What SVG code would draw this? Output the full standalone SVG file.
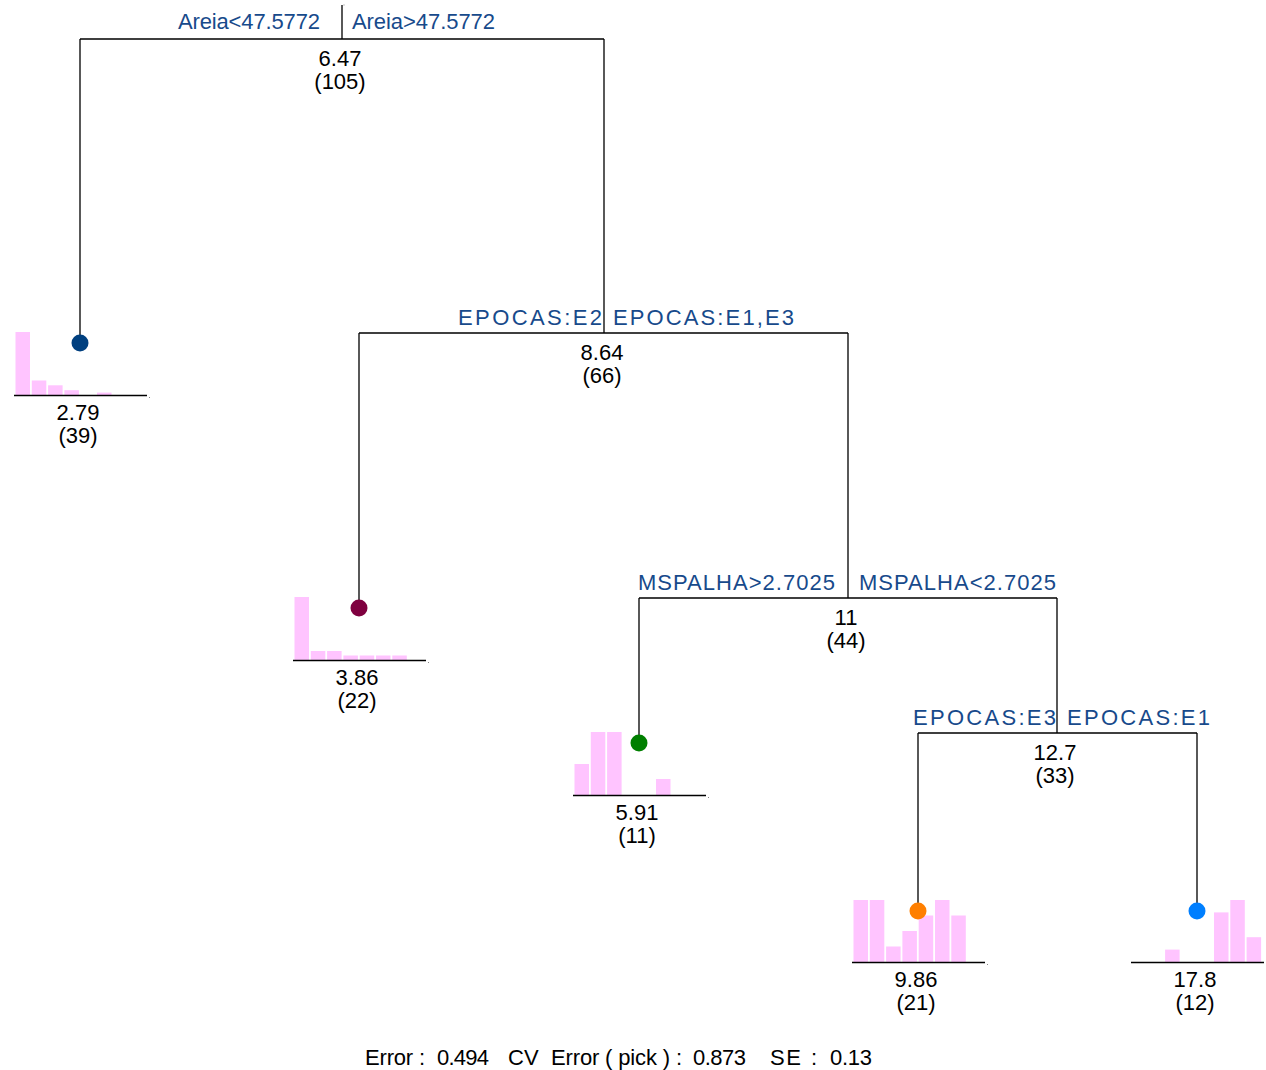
<svg xmlns="http://www.w3.org/2000/svg" width="1266" height="1070" viewBox="0 0 1266 1070">
<style>
text{font-family:"Liberation Sans",Arial,sans-serif;font-size:22px}
.lab{fill:#174a8b;}
.val{fill:#000;text-anchor:middle}
.ln{stroke:#000;stroke-width:1.3;fill:none}
.bar{fill:#ffc4ff}
.base{stroke:#000;stroke-width:1.5}
.spk{fill:#888}
</style>
<rect width="1266" height="1070" fill="#fff"/>
<g id="connectors">
<path class="ln" d="M342,5V39M80,39H604M80,39V343"/>
<path class="ln" d="M604,39V333M359,333H848M359,333V608"/>
<path class="ln" d="M848,333V598M639,598H1057M639,598V743"/>
<path class="ln" d="M1057,598V733M918,733H1197M918,733V911M1197,733V911"/>
<rect class="spk" x="343.5" y="4.5" width="1" height="1"/>
</g>
<g id="split1">
<text class="lab" x="178" y="29" textLength="142" lengthAdjust="spacing">Areia&lt;47.5772</text>
<text class="lab" x="352" y="29" textLength="143" lengthAdjust="spacing">Areia&gt;47.5772</text>
<text class="val" x="340" y="66">6.47</text>
<text class="val" x="340" y="89">(105)</text>
</g>
<g id="split2">
<text class="lab" x="458" y="325" textLength="144" lengthAdjust="spacing">EPOCAS:E2</text>
<text class="lab" x="613" y="325" textLength="181" lengthAdjust="spacing">EPOCAS:E1,E3</text>
<text class="val" x="602" y="360">8.64</text>
<text class="val" x="602" y="383">(66)</text>
</g>
<g id="split3">
<text class="lab" x="638" y="590" textLength="197" lengthAdjust="spacing">MSPALHA&gt;2.7025</text>
<text class="lab" x="859" y="590" textLength="197" lengthAdjust="spacing">MSPALHA&lt;2.7025</text>
<text class="val" x="846" y="625">11</text>
<text class="val" x="846" y="648">(44)</text>
</g>
<g id="split4">
<text class="lab" x="913" y="725" textLength="143" lengthAdjust="spacing">EPOCAS:E3</text>
<text class="lab" x="1067" y="725" textLength="143" lengthAdjust="spacing">EPOCAS:E1</text>
<text class="val" x="1055" y="760">12.7</text>
<text class="val" x="1055" y="783">(33)</text>
</g>
<g id="leaf1">
<rect class="bar" x="15.5" y="332" width="14.5" height="63"/>
<rect class="bar" x="31.8" y="380.5" width="14.5" height="14.5"/>
<rect class="bar" x="48.1" y="385.3" width="14.5" height="9.7"/>
<rect class="bar" x="64.4" y="390.2" width="14.5" height="4.8"/>
<rect class="bar" x="97" y="392.6" width="14.5" height="2.4"/>
<line class="base" x1="14" y1="395.5" x2="147" y2="395.5"/>
<rect class="spk" x="149" y="397" width="1" height="1"/>
<circle cx="80" cy="343" r="8.5" fill="#003f7f"/>
<text class="val" x="78" y="420">2.79</text>
<text class="val" x="78" y="443">(39)</text>
</g>
<g id="leaf2">
<rect class="bar" x="294.5" y="597" width="14.5" height="63"/>
<rect class="bar" x="310.8" y="651" width="14.5" height="9"/>
<rect class="bar" x="327.1" y="651" width="14.5" height="9"/>
<rect class="bar" x="343.4" y="655.5" width="14.5" height="4.5"/>
<rect class="bar" x="359.7" y="655.5" width="14.5" height="4.5"/>
<rect class="bar" x="376" y="655.5" width="14.5" height="4.5"/>
<rect class="bar" x="392.3" y="655.5" width="14.5" height="4.5"/>
<line class="base" x1="293" y1="660.5" x2="426" y2="660.5"/>
<rect class="spk" x="428" y="662" width="1" height="1"/>
<circle cx="359" cy="608" r="8.5" fill="#7f003f"/>
<text class="val" x="357" y="685">3.86</text>
<text class="val" x="357" y="708">(22)</text>
</g>
<g id="leaf3">
<rect class="bar" x="574.5" y="764" width="14.5" height="31"/>
<rect class="bar" x="590.8" y="732" width="14.5" height="63"/>
<rect class="bar" x="607.1" y="732" width="14.5" height="63"/>
<rect class="bar" x="656" y="779" width="14.5" height="16"/>
<line class="base" x1="573" y1="795.5" x2="706" y2="795.5"/>
<rect class="spk" x="708" y="797" width="1" height="1"/>
<circle cx="639" cy="743" r="8.5" fill="#007f00"/>
<text class="val" x="637" y="820">5.91</text>
<text class="val" x="637" y="843">(11)</text>
</g>
<g id="leaf4">
<rect class="bar" x="853.5" y="900" width="14.5" height="62"/>
<rect class="bar" x="869.8" y="900" width="14.5" height="62"/>
<rect class="bar" x="886.1" y="946.5" width="14.5" height="15.5"/>
<rect class="bar" x="902.4" y="931" width="14.5" height="31"/>
<rect class="bar" x="918.7" y="915.5" width="14.5" height="46.5"/>
<rect class="bar" x="935" y="900" width="14.5" height="62"/>
<rect class="bar" x="951.3" y="915.5" width="14.5" height="46.5"/>
<line class="base" x1="852" y1="962.5" x2="985" y2="962.5"/>
<rect class="spk" x="987" y="964" width="1" height="1"/>
<circle cx="918" cy="911" r="8.5" fill="#ff7f00"/>
<text class="val" x="916" y="987">9.86</text>
<text class="val" x="916" y="1010">(21)</text>
</g>
<g id="leaf5">
<rect class="bar" x="1165.1" y="949.6" width="14.5" height="12.4"/>
<rect class="bar" x="1214" y="912.4" width="14.5" height="49.6"/>
<rect class="bar" x="1230.3" y="900" width="14.5" height="62"/>
<rect class="bar" x="1246.6" y="937.2" width="14.5" height="24.8"/>
<line class="base" x1="1131" y1="962.5" x2="1264" y2="962.5"/>
<circle cx="1197" cy="911" r="8.5" fill="#007fff"/>
<text class="val" x="1195" y="987">17.8</text>
<text class="val" x="1195" y="1010">(12)</text>
</g>
<g id="summary">
<text x="365" y="1065" textLength="60" lengthAdjust="spacing">Error :</text>
<text x="437" y="1065" textLength="52" lengthAdjust="spacing">0.494</text>
<text x="508" y="1065">CV</text>
<text x="551" y="1065" textLength="131" lengthAdjust="spacing">Error ( pick ) :</text>
<text x="693" y="1065" textLength="53" lengthAdjust="spacing">0.873</text>
<text x="770" y="1065" textLength="31" lengthAdjust="spacing">SE</text>
<text x="811" y="1065">:</text>
<text x="830" y="1065" textLength="42" lengthAdjust="spacing">0.13</text>
</g>
</svg>
